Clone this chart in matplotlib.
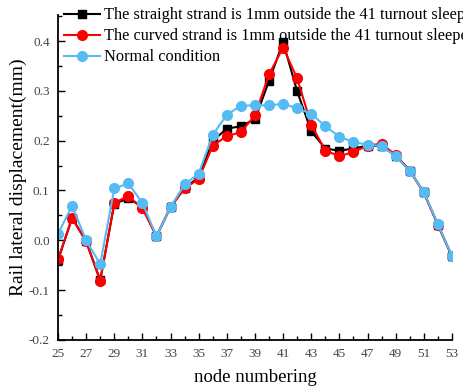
import matplotlib.pyplot as plt
from matplotlib.ticker import MultipleLocator

nodes = list(range(25, 54))

straight = [-0.040, 0.045, -0.002, -0.080, 0.073, 0.084, 0.067, 0.008, 0.067, 0.105,
            0.126, 0.200, 0.224, 0.229, 0.243, 0.320, 0.398, 0.299, 0.219, 0.184,
            0.180, 0.184, 0.190, 0.189, 0.170, 0.140, 0.096, 0.031, -0.032]
curved = [-0.038, 0.044, -0.002, -0.082, 0.075, 0.089, 0.064, 0.008, 0.067, 0.104,
          0.123, 0.190, 0.209, 0.217, 0.251, 0.333, 0.387, 0.325, 0.232, 0.180,
          0.169, 0.177, 0.190, 0.194, 0.171, 0.140, 0.096, 0.031, -0.032]
normal = [0.013, 0.069, 0.000, -0.048, 0.104, 0.114, 0.075, 0.008, 0.067, 0.112,
          0.134, 0.212, 0.252, 0.270, 0.271, 0.271, 0.274, 0.265, 0.254, 0.229,
          0.208, 0.197, 0.192, 0.189, 0.169, 0.139, 0.097, 0.032, -0.031]

labels = ["The straight strand is 1mm outside the 41 turnout sleeper",
          "The curved strand is 1mm outside the 41 turnout sleeper",
          "Normal condition"]

plt.rcParams["font.family"] = ["Liberation Serif", "DejaVu Serif"]

fig = plt.figure(figsize=(4.64, 3.88), dpi=100)
ax = fig.add_axes([0.125, 0.124, 0.849, 0.837])

ax.plot(nodes, straight, color="black", marker="s", markersize=6, linewidth=1.5, label=labels[0])
ax.plot(nodes, curved, color="#ff0000", marker="o", markersize=7, linewidth=1.5, label=labels[1])
ax.plot(nodes, normal, color="#55bbf5", marker="o", markersize=7, linewidth=1.5, label=labels[2])

ax.set_xlim(25, 53)
ax.set_ylim(-0.2, 0.452)
ax.set_xticks(list(range(25, 54, 2)))
ax.xaxis.set_minor_locator(MultipleLocator(1))
ax.yaxis.set_minor_locator(MultipleLocator(0.05))
ax.set_yticks([-0.2, -0.1, 0.0, 0.1, 0.2, 0.3, 0.4])
ax.set_yticklabels(["-0.2", "-0.1", "0.0", "0.1", "0.2", "0.3", "0.4"])

ax.tick_params(which="both", direction="in", labelsize=9.5, labelcolor="#444444", width=1)
ax.tick_params(which="major", length=5, pad=6)
ax.tick_params(which="minor", length=3)
for s in ["top", "right"]:
    ax.spines[s].set_visible(False)
for s in ["left", "bottom"]:
    ax.spines[s].set_linewidth(1.3)

ax.set_xlabel("node numbering", fontsize=13.5, labelpad=6)
ax.set_ylabel("Rail lateral displacement(mm)", fontsize=14, labelpad=1)

ax.legend(loc="upper left", bbox_to_anchor=(0.135, 0.985), bbox_transform=fig.transFigure,
          frameon=False, fontsize=11.75, handlelength=2.2, handletextpad=0.25,
          labelspacing=0.3, borderaxespad=0, borderpad=0.1)

fig.savefig("out.png", dpi=100)
